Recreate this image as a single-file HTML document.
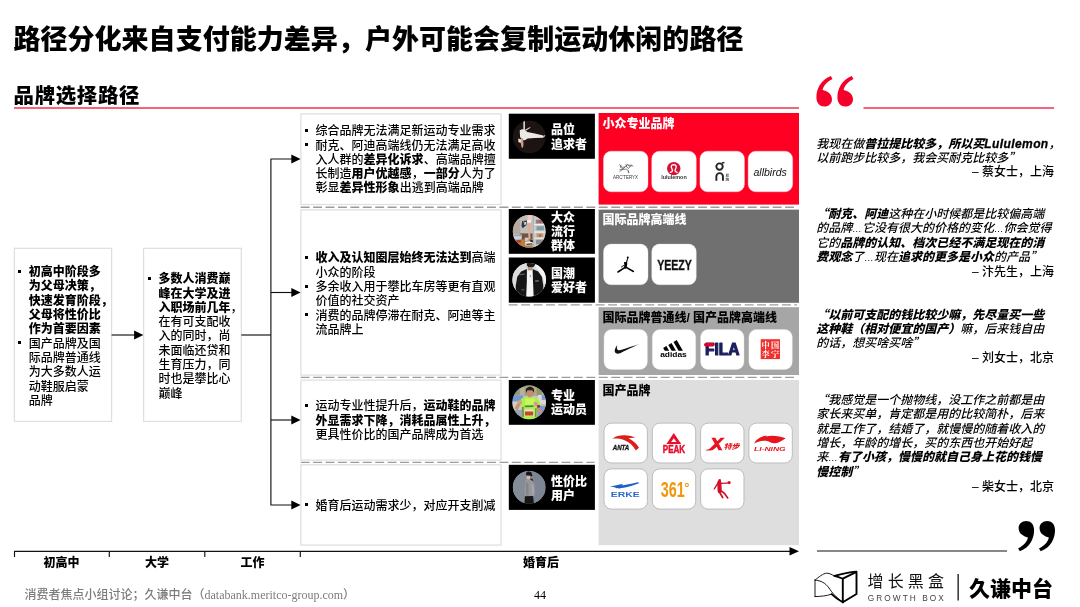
<!DOCTYPE html>
<html lang="zh-CN">
<head>
<meta charset="utf-8">
<title>路径分化来自支付能力差异，户外可能会复制运动休闲的路径</title>
<style>
*{margin:0;padding:0;box-sizing:border-box;}
html,body{width:1080px;height:607px;overflow:hidden;background:#fff;}
body{position:relative;font-family:"Liberation Sans","Noto Sans CJK SC",sans-serif;color:#000;}
#root{position:absolute;left:0;top:0;width:1080px;height:607px;will-change:transform;}
.abs{position:absolute;}
.title{left:13.4px;top:19.5px;font-size:27px;font-weight:900;line-height:40px;white-space:nowrap;letter-spacing:0.04px;}
.sub{left:13.6px;top:80.5px;font-size:20.4px;font-weight:900;line-height:30px;white-space:nowrap;letter-spacing:0.7px;}
.txt{font-weight:500;font-size:12px;line-height:14.3px;white-space:nowrap;display:flex;align-items:center;}
.txt b{font-weight:900;}
ul.bl{list-style:none;}
ul.bl li{position:relative;padding-left:13.6px;}
ul.bl li::before{content:"";position:absolute;left:3px;top:4.65px;width:3px;height:3px;background:#000;}
.nm{color:#fff;font-weight:900;font-size:12px;line-height:14.1px;white-space:nowrap;left:551.1px;}
.lab{left:602.4px;font-size:12px;font-weight:900;line-height:18px;white-space:nowrap;}
.q{left:816.3px;font-weight:500;font-size:12px;line-height:14.3px;font-style:italic;white-space:nowrap;color:#000;}
.q b{font-weight:900;}
.q i{font-family:"Noto Sans CJK SC",sans-serif;font-style:italic;line-height:0;}
.q .e{font-size:9.6px;line-height:0;}
.at{font-weight:500;left:817px;width:237px;text-align:right;font-size:12px;line-height:14.3px;white-space:nowrap;}
.tl{font-size:12px;font-weight:900;line-height:16px;text-align:center;white-space:nowrap;}
</style>
</head>
<body>
<div id="root">
<svg class="abs" style="left:0;top:0" width="1080" height="607" viewBox="0 0 1080 607">
<line x1="14" y1="108" x2="799" y2="108" stroke="#f0304e" stroke-width="1.6"/>
<line x1="863.5" y1="108" x2="1054" y2="108" stroke="#f0304e" stroke-width="1.5"/>
<rect x="14.4" y="248.3" width="97.2" height="173.1" fill="#fff" stroke="#dedede" stroke-width="1.2"/>
<rect x="143.6" y="248.3" width="97.7" height="173.1" fill="#fff" stroke="#dedede" stroke-width="1.2"/>
<rect x="300.9" y="113.9" width="200.1" height="90.6" fill="#fff" stroke="#dedede" stroke-width="1.2"/>
<rect x="300.9" y="209.9" width="200.1" height="165.2" fill="#fff" stroke="#dedede" stroke-width="1.2"/>
<rect x="300.9" y="380.1" width="200.1" height="80" fill="#fff" stroke="#dedede" stroke-width="1.2"/>
<rect x="300.9" y="464.8" width="200.1" height="80.3" fill="#fff" stroke="#dedede" stroke-width="1.2"/>
<rect x="598.6" y="113" width="200.4" height="91.6" fill="#ff0022" />
<rect x="598.6" y="209.6" width="200.4" height="93.2" fill="#707070" />
<rect x="598.6" y="307.2" width="200.4" height="67.8" fill="#a6a6a6" />
<rect x="598.6" y="380" width="200.4" height="165.2" fill="#dedede" />
<g stroke="#9c9c9c" stroke-width="1.4" stroke-dasharray="8.9 3.52" fill="none"><line x1="300.7" y1="207.2" x2="797" y2="207.2"/><line x1="508.7" y1="304.9" x2="797" y2="304.9"/><line x1="300.7" y1="377.4" x2="797" y2="377.4"/><line x1="300.7" y1="462.4" x2="594.5" y2="462.4"/></g>
<g stroke="#111" stroke-width="1.15" fill="none" stroke-linejoin="round"><line x1="111.6" y1="335" x2="135" y2="335"/><path d="M241.3 335H270.9"/><path d="M292 159H270.9V505H292"/><line x1="270.9" y1="292.5" x2="292" y2="292.5"/><line x1="270.9" y1="420" x2="292" y2="420"/><path d="M14.5 557V551.3H790"/><line x1="109.3" y1="551.3" x2="109.3" y2="557"/><line x1="204.8" y1="551.3" x2="204.8" y2="557"/><line x1="300.3" y1="551.3" x2="300.3" y2="557"/><line x1="817" y1="551" x2="1007" y2="551"/></g>
<g fill="#000"><path d="M134.1 330.6L143.4 335L134.1 339.4Z"/><path d="M291.3 154.6L300.6 159L291.3 163.4Z"/><path d="M291.3 288.1L300.6 292.5L291.3 296.9Z"/><path d="M291.3 415.6L300.6 420L291.3 424.4Z"/><path d="M291.3 500.6L300.6 505L291.3 509.4Z"/><path d="M789.5 547L799 551.3L789.5 555.6Z"/></g>
<rect x="508.8" y="113.7" width="86.1" height="45.1" fill="#000" />
<g transform="translate(512.7 120.3)"><defs><clipPath id="cpA"><circle cx="16.5" cy="16.5" r="16.4"/></clipPath><filter id="blA" x="-10%" y="-10%" width="120%" height="120%"><feGaussianBlur stdDeviation="0.5"/></filter></defs><g clip-path="url(#cpA)"><rect width="33" height="33" fill="#1c1413"/><g filter="url(#blA)"><rect x="10.700" y="0" width="1.500" height="10.400" fill="#e9e4de"/>
<path d="M7 10.200c1.400-1.300 3.800-1.500 5.400-.6l2.200 2 7.600 1.700 8.200 1.800 1 1.200-.9 1.100-8.500.2-7 .6-2.800 1.800-2.800-.4-2-2.800z" fill="#ece8e4"/>
<path d="M12.400 9.400l4-2.200.5.700-3.500 2.400z" fill="#e8e0da"/>
<path d="M16.200 7.300l1.400-.7.300.7-1.300.8z" fill="#d9a58a"/>
<path d="M30.600 15.600l1.800-1.100.4.900-1.600 1.500z" fill="#d9a58a"/>
<path d="M8.400 17.400l1.800.6.600 5.400-.5 4-1.500-.4-.7-4z" fill="#cf9c80"/>
<path d="M5.600 18.200l3 1-.6 3.400-2.400-.8z" fill="#e6e0da"/></g></g></g>
<rect x="508.8" y="209" width="86.1" height="44.8" fill="#000" />
<g transform="translate(512.7 214.9)"><defs><clipPath id="cpB"><circle cx="16.5" cy="16.5" r="16.4"/></clipPath><filter id="blB" x="-10%" y="-10%" width="120%" height="120%"><feGaussianBlur stdDeviation="0.6"/></filter></defs><g clip-path="url(#cpB)"><rect width="33" height="33" fill="#b5aaa0"/><g filter="url(#blB)"><rect x="-2" y="-2" width="37" height="37" fill="#b5aaa0"/>
<rect x="7.5" y="-2" width="13" height="22" fill="#c5bcb5"/>
<path d="M7 18.5h14v7H7z" fill="#6f553c"/>
<path d="M-2 24.6h28v10H-2z" fill="#b4803f"/>
<rect x="20" y="-2" width="15" height="37" fill="#cacaca"/>
<rect x="20" y="-2" width="1.4" height="37" fill="#b4b4b4"/>
<rect x="21.4" y="9" width="12" height="1.3" fill="#f0f0f0"/>
<rect x="21.4" y="16.5" width="12" height="1.3" fill="#f0f0f0"/>
<rect x="21.4" y="22.800" width="12" height="1.3" fill="#e6e6e6"/>
<rect x="23.2" y="4.800" width="8.5" height="3.800" fill="#8e7d80"/>
<rect x="26.4" y="5.200" width="2.4" height="2.400" fill="#c84a50"/>
<rect x="23.800" y="11.400" width="7.400" height="4" fill="#7f9ba4"/>
<rect x="23.800" y="18.400" width="6.600" height="3.800" fill="#c09a6e"/>
<rect x="26.200" y="19.800" width="2.200" height="1.800" fill="#d0523a"/>
<rect x="23.200" y="24.800" width="7" height="4.600" fill="#8a8a8c"/>
<path d="M15 -1h4.600l-.2 6.400h-4.600z" fill="#edccc9"/>
<path d="M14.300 5.200h4.100l-.2 2.800h-3.700z" fill="#f6f0f0"/>
<path d="M14.800 7.800h3.200l-.5 8.200.3 8-1.900.6-.5-8.600z" fill="#dcae9c"/>
<path d="M9.400 6l5-.5-.6 4.600-3.800 3.300-1.200-2.400z" fill="#2b3850"/>
<path d="M11.600 7.200l2-.2-.3 2.600-1.900.6z" fill="#dfe0b0"/>
<path d="M10.200 6.200l1.600-.2-.2 1.800-1.400.2z" fill="#4a78b8"/>
<path d="M12 22.800l3.800-.3.300 3-3.800.6z" fill="#d6c4ca"/>
<path d="M12.600 26.800l6.600-.6.600 2.600-1 1.600-6.200.2z" fill="#ececec"/>
<path d="M13.600 28.800l5.600-.5.200 1.200-5.600.6z" fill="#3a3a3e"/>
<path d="M17.600 25l2.400.2.200 1.800-2.600.2z" fill="#2c2c30"/>
<path d="M1 19.600h8v5H1z" fill="#cdd2dc"/>
<path d="M1.500 20h7v1.200h-7z" fill="#8aa2cc"/>
<path d="M3.800 25.200h4.400v2.600H3.800z" fill="#b23b30"/></g></g></g>
<rect x="508.8" y="257.5" width="86.1" height="45.2" fill="#000" />
<g transform="translate(512.7 263.3)"><defs><clipPath id="cpC"><circle cx="16.5" cy="16.5" r="16.8"/></clipPath><filter id="blC" x="-10%" y="-10%" width="120%" height="120%"><feGaussianBlur stdDeviation="0.55"/></filter></defs><g clip-path="url(#cpC)"><rect x="-1" y="-1" width="35" height="35" fill="#dcdcdc"/><g filter="url(#blC)"><rect x="-2" y="-2" width="37" height="37" fill="#dcdcdc"/>
<path d="M19 -2h16v30l-6-16z" fill="#f4f4f4"/>
<path d="M14 -1h9l-.6 2.600-2 2.400-4 .600-2.200-2.400z" fill="#1c1a1a"/>
<path d="M15 3.600l4.600.2-.4 3.800-3.600.4z" fill="#b8907e"/>
<path d="M14.600 7.200l5.400-.2.800 4 .6 23h-7.600l.4-22z" fill="#f6f6f6"/>
<path d="M14.200 5.600l-5.700 2.600-3.900 5.200-1.600 9 .4 11.600h10l.7-16z" fill="#151515"/>
<path d="M19.900 5.800l5.600 2.400 3.800 5.600 1.300 8.600-.2 11.600h-9.400l-.7-16z" fill="#171717"/>
<path d="M6.600 10.600l5.600-.5.200 1.200-5.600.7z" fill="#7a6250"/>
<path d="M22.400 17l3.600-.4.200 1.600-3.600.4z" fill="#6a6a6a"/>
<path d="M8.600 25.800l3-.3.200 1.600-3 .4z" fill="#5a4030"/>
<path d="M17.200 11.600l.8 0 .1 2.200-1 .1z" fill="#8a8a8a"/></g></g></g>
<rect x="508.8" y="380" width="86.1" height="44.8" fill="#000" />
<g transform="translate(512.7 385.9)"><defs><clipPath id="cpD"><circle cx="16.5" cy="16.5" r="16.8"/></clipPath><filter id="blD" x="-10%" y="-10%" width="120%" height="120%"><feGaussianBlur stdDeviation="0.7"/></filter></defs><g clip-path="url(#cpD)"><rect x="-1" y="-1" width="35" height="35" fill="#a6a488"/><g filter="url(#blD)"><rect x="-2" y="-2" width="37" height="14" fill="#a6a488"/>
<rect x="-2" y="-2" width="15" height="11" fill="#8e9a7a"/>
<rect x="7" y="1" width="5" height="9" fill="#b8b098"/>
<rect x="21" y="0" width="14" height="10" fill="#b6a886"/>
<rect x="24" y="2" width="5" height="8" fill="#909672"/>
<rect x="-2" y="10" width="37" height="12" fill="#c6c2ca"/>
<rect x="-2" y="9.6" width="12.5" height="6" fill="#7099d6"/>
<rect x="25" y="9" width="10" height="9" fill="#e0d6d8"/>
<rect x="29" y="9" width="6" height="5" fill="#7c9ad0"/>
<rect x="-2" y="21" width="37" height="14" fill="#9aa2bc"/>
<rect x="26" y="20" width="9" height="15" fill="#8696c6"/>
<rect x="0" y="16" width="9" height="8" fill="#d8cac6"/>
<path d="M9 12.400l5.800-1.600 4.600.2 5.800 1.600 3.400 6.400-3 2.800-1.600-1.200.2 14.400H9.600l.4-14.400-2.600.6-2-3.600z" fill="#aef04c"/>
<path d="M12.500 12.500h9.500v7h-9.500z" fill="#c8f65e"/>
<path d="M9.700 21l1.100-.2.300 10-1.300.2z" fill="#3a5a22" opacity="0.8"/>
<path d="M22.700 22.200l1 .2-.1 8.600-1.100-.1z" fill="#3a5a22" opacity="0.8"/>
<path d="M13.800 4.600c0-2.600 7-2.600 7 0l-.4 4-1.600 2.600-3 .2-1.600-2.800z" fill="#c28c74"/>
<path d="M13.200 5.600c-.6-6.200 8.800-6.200 8.200 0l-.6 1.400c-.2-2.400-1.200-3.600-3.500-3.600s-3.300 1.200-3.500 3.600z" fill="#241c1a"/>
<path d="M14 2.200h6.600v2.200H14z" fill="#2a201c"/>
<path d="M1.600 22.600l3.800-6.600 3 1.600-3.400 6.800z" fill="#c69276"/>
<path d="M5.800 14l3 .6.600 3-2.600 1-1.600-2.200z" fill="#d29e84"/>
<path d="M25.800 20l3.600 5-1.600 3-3.800-4.800z" fill="#c69276"/>
<path d="M21.400 15.800l3 .4 1 3-2.800 1.400-1.800-2.400z" fill="#d29e84"/>
<path d="M24 19.600l2.800-.8 1 2.200-2.800 1.200z" fill="#8c2a68"/>
<path d="M12 19.600l8.800-.2.100 1.700-8.800.3z" fill="#4c8a3a"/>
<path d="M11.900 23.400h8.900v6.900h-8.900z" fill="#e8dcd6"/>
<path d="M12.300 25.600h8.100v4h-8.100z" fill="#c2491c"/></g></g></g>
<rect x="508.8" y="464.8" width="86.1" height="45.1" fill="#000" />
<g transform="translate(512.7 470.8)"><defs><clipPath id="cpE"><circle cx="16.5" cy="16.5" r="16.4"/></clipPath><filter id="blE" x="-10%" y="-10%" width="120%" height="120%"><feGaussianBlur stdDeviation="0.45"/></filter></defs><g clip-path="url(#cpE)"><rect width="33" height="33" fill="#7d8592"/><g filter="url(#blE)"><rect x="0" y="0" width="33" height="33" fill="#7d8592"/>
<rect x="0" y="0" width="14" height="33" fill="#848c98"/>
<path d="M13.300 2.600c.4-2.600 5.600-2.600 5.800.2l.6 2.200-1.200.8-4.600-.2z" fill="#17171a"/>
<path d="M13.800 4.800l4 .2-.2 3.400-2.400.8-1.400-1.600z" fill="#d8b7a6"/>
<path d="M17.600 7.200l2.600 1.600.4 2-2.400-.6z" fill="#1d1d20"/>
<path d="M12.800 9l3-.6 3.800 1.200 2.200 3.400.6 8.800-1 4-1.200.4-.2 0-7.600.2-.6-8z" fill="#98979b"/>
<path d="M13.200 12l2.400-.4.400 13h-2.600z" fill="#85848a"/>
<path d="M18.600 12.600l2.200 1.600.6 8.400-1.600 3z" fill="#a7a6aa"/>
<path d="M12.200 25.400l8.200-.3.800 8h-9.400z" fill="#151518"/></g></g></g>
<g transform="translate(603.5 151.2)"><rect x="0" y="0" width="44.5" height="40.6" rx="7.6" fill="#fff" stroke="#e6e6e6" stroke-opacity="0.55" stroke-width="0.7"/><g fill="none" stroke="#222" stroke-width="0.55" stroke-linecap="round"><path d="M16 13.6l3.2 2.6 2.4-.5 2.6-2.2 1.8.6 2.4-.3 1 1.2"/><path d="M17.2 14l-.3 2.2 2.6 1.2"/><path d="M21.6 15.7l-2.8 2.7-2.6 1.9"/><path d="M19.5 18.2l3.6-.4 1.6 1.8.3 2"/><path d="M22.5 13.2l.6 2.6 2 1.4 1.4-1.6"/><path d="M24.2 13.6l1.4 1.5 2.6-.4"/><path d="M16.4 18.4l2.2.2M24.6 19.4l.9 1.6"/></g><text x="22" y="27.7" text-anchor="middle" font-family="'Liberation Sans',sans-serif" font-size="4.9" textLength="25" lengthAdjust="spacingAndGlyphs" fill="#333">ARC'TERYX</text></g>
<g transform="translate(651.75 151.2)"><rect x="0" y="0" width="44.5" height="40.6" rx="7.6" fill="#fff" stroke="#e6e6e6" stroke-opacity="0.55" stroke-width="0.7"/><circle cx="22" cy="17.4" r="6.7" fill="#d31334"/><path d="M18.6 21.2c2.2-.6 2.6-2 1.6-3.6-1.2-1.9-1-4 1.8-4.2 2.8.2 3 2.3 1.8 4.2-1 1.6-.6 3 1.6 3.6" fill="none" stroke="#fff" stroke-width="1.3" stroke-linecap="round"/><text x="22.2" y="28.2" text-anchor="middle" font-family="'Liberation Sans',sans-serif" font-size="5.6" font-weight="700" textLength="25.6" lengthAdjust="spacingAndGlyphs" fill="#333">lululemon</text></g>
<g transform="translate(699.95 151.2)"><rect x="0" y="0" width="44.5" height="40.6" rx="7.6" fill="#fff" stroke="#e6e6e6" stroke-opacity="0.55" stroke-width="0.7"/><g fill="none" stroke="#222" stroke-width="1.9"><circle cx="19.6" cy="15.4" r="3.2"/><path d="M16.4 29.6v-4.4a3.3 3.3 0 0 1 6.6 0v4.4"/></g><path d="M22 11.9l2.4-.6" stroke="#222" stroke-width="1.5" fill="none"/><text x="25.6" y="25.6" font-family="'Noto Sans CJK SC',sans-serif" font-size="3.6" font-weight="700" fill="#444">昂</text><text x="25.6" y="29.4" font-family="'Noto Sans CJK SC',sans-serif" font-size="3.6" font-weight="700" fill="#444">跑</text></g>
<g transform="translate(748.15 151.2)"><rect x="0" y="0" width="44.5" height="40.6" rx="7.6" fill="#fff" stroke="#e6e6e6" stroke-opacity="0.55" stroke-width="0.7"/><text x="22" y="25" text-anchor="middle" font-family="'Liberation Sans',sans-serif" font-style="italic" font-size="10.6" textLength="33.4" lengthAdjust="spacingAndGlyphs" fill="#111">allbirds</text></g>
<g transform="translate(603.5 244.1)"><rect x="0" y="0" width="44.5" height="40.6" rx="7.6" fill="#fff" stroke="#e6e6e6" stroke-opacity="0.55" stroke-width="0.7"/><g transform="translate(13.9 12.3)" fill="#000" stroke="#000" stroke-linecap="round"><circle cx="10.4" cy="1.2" r="1" stroke="none"/><path d="M10.2 2.2L8.8 7" stroke-width="1.1" fill="none"/><circle cx="7.5" cy="6.6" r="1" stroke="none"/><path d="M8.6 7L8 11" stroke-width="2.6" fill="none"/><path d="M8 10.8L0.6 15.6" stroke-width="1.5" fill="none"/><path d="M8.4 10.8L16 15.1" stroke-width="1.5" fill="none"/><path d="M7.6 8.2L4 10.6" stroke-width="0.9" fill="none"/></g></g>
<g transform="translate(651.75 244.1)"><rect x="0" y="0" width="44.5" height="40.6" rx="7.6" fill="#fff" stroke="#e6e6e6" stroke-opacity="0.55" stroke-width="0.7"/><text x="22.8" y="25.8" text-anchor="middle" font-family="'Liberation Sans',sans-serif" font-size="14" font-weight="700" textLength="34.6" lengthAdjust="spacingAndGlyphs" fill="#111" stroke="#111" stroke-width="0.35">YEEZY</text></g>
<g transform="translate(604 329.6)"><rect x="0" y="0" width="43.4" height="39.8" rx="7.6" fill="#fff" stroke="#e6e6e6" stroke-opacity="0.55" stroke-width="0.7"/><path transform="translate(10.5 14.4)" d="M25.1 0C17 3.6 9 7.6 5.6 9.2 3.5 10.1 1.2 9.8.4 8-.4 6.2 1 3.4 2.9 1.1 2.2 3 2.1 4.8 3.1 5.8 4.3 6.8 6 6.3 8 5.6 13 3.8 19 1.8 25.1 0Z" fill="#111"/></g>
<g transform="translate(652.3 329.6)"><rect x="0" y="0" width="43.4" height="39.8" rx="7.6" fill="#fff" stroke="#e6e6e6" stroke-opacity="0.55" stroke-width="0.7"/><g fill="#000"><path d="M21.2 12.300l3.200-1.900 6.200 10.800h-4.300z"/><path d="M16 15.300l3.200-1.900 4.500 7.800h-4.300z"/><path d="M10.900 18.400l3.200-1.900 2.700 4.700h-4.300z"/></g><text x="21.200" y="27.500" text-anchor="middle" font-family="'Liberation Sans',sans-serif" font-size="7.600" font-weight="700" textLength="26.600" lengthAdjust="spacingAndGlyphs" fill="#000">adidas</text></g>
<g transform="translate(700.6 329.6)"><rect x="0" y="0" width="43.4" height="39.8" rx="7.6" fill="#fff" stroke="#e6e6e6" stroke-opacity="0.55" stroke-width="0.7"/><text x="21.700" y="25.500" text-anchor="middle" font-family="'Liberation Sans',sans-serif" font-size="15.600" font-weight="700" textLength="34.600" lengthAdjust="spacingAndGlyphs" fill="#1a1f5c" stroke="#1a1f5c" stroke-width="1.1" stroke-linejoin="round">FILA</text><rect x="3.400" y="13.500" width="10.600" height="3.400" rx="1.700" fill="#e4002b"/></g>
<g transform="translate(748.9 329.6)"><rect x="0" y="0" width="43.4" height="39.8" rx="7.6" fill="#fff" stroke="#e6e6e6" stroke-opacity="0.55" stroke-width="0.7"/><rect x="11.8" y="9.6" width="19.3" height="19.9" fill="#f0302c"/><g font-family="'Noto Serif CJK SC',serif" font-size="8.2" font-weight="700" fill="#fff"><text x="12.6" y="18.4">中</text><text x="22.2" y="18.4">国</text><text x="12.6" y="27.8">李</text><text x="22.2" y="27.8">宁</text></g></g>
<g transform="translate(604 423.1)"><rect x="0" y="0" width="43.4" height="39.9" rx="7.6" fill="#fff" stroke="#bcbcbc" stroke-width="1"/><path d="M8.600 15.600C12 12.600 18 11.800 23 12.400c3.600.4 6.600 1.200 8.200 2.200-3-.1-5.200.1-6.600.5 4.600 2.400 8.400 5.800 10.400 9.600l-3.200 2.600C29.400 22.800 25.600 19 20 16.900c-3.800-1.300-8-1.700-11.400-1.300z" fill="#d8201c"/><text x="17" y="27" text-anchor="middle" font-family="'Liberation Sans',sans-serif" font-size="8" font-weight="700" font-style="italic" textLength="16.600" lengthAdjust="spacingAndGlyphs" fill="#111" stroke="#111" stroke-width="0.3">ANTA</text></g>
<g transform="translate(652.3 423.1)"><rect x="0" y="0" width="43.4" height="39.9" rx="7.6" fill="#fff" stroke="#bcbcbc" stroke-width="1"/><path d="M21.500 9.800l7.400 11.200H14.100z" fill="#e60f2d"/><path d="M21.500 15.200l2.700 3.600h-5.400z" fill="#fff"/><text x="21.700" y="30" text-anchor="middle" font-family="'Liberation Sans',sans-serif" font-size="10" font-weight="700" textLength="22.400" lengthAdjust="spacingAndGlyphs" fill="#e60f2d" stroke="#e60f2d" stroke-width="0.45">PEAK</text></g>
<g transform="translate(700.6 423.1)"><rect x="0" y="0" width="43.4" height="39.9" rx="7.6" fill="#fff" stroke="#bcbcbc" stroke-width="1"/><text x="16" y="26.800" text-anchor="middle" font-family="'Liberation Sans',sans-serif" font-size="16.500" font-weight="700" font-style="italic" textLength="13" lengthAdjust="spacingAndGlyphs" fill="#e8141e" stroke="#e8141e" stroke-width="0.7">X</text><path d="M4.200 26.800c3.400.2 7-1.200 9.600-3.800l1.800 1.400c-3 3-7.800 3.800-11.400 2.400z" fill="#e8141e"/><text x="31" y="26.200" text-anchor="middle" font-family="'Noto Sans CJK SC',sans-serif" font-size="7" font-weight="900" font-style="italic" textLength="15.600" lengthAdjust="spacingAndGlyphs" fill="#e8141e">特步</text></g>
<g transform="translate(748.9 423.1)"><rect x="0" y="0" width="43.4" height="39.9" rx="7.6" fill="#fff" stroke="#bcbcbc" stroke-width="1"/><path d="M5.200 20.600c1.800-4.400 6.600-7.600 12.800-8.200l-1.200 1c6.200-1.400 13.800-.6 20 1.800-3.600 2.600-7 4.600-10.400 5-4 .4-5.800-2.200-9.600-2.600-4.400-.4-8.600 1-11.600 3z" fill="#e8141e"/><text x="21" y="28" text-anchor="middle" font-family="'Liberation Sans',sans-serif" font-size="5.800" font-weight="700" font-style="italic" textLength="31.600" lengthAdjust="spacingAndGlyphs" fill="#e8141e">LI-NING</text></g>
<g transform="translate(604 468.9)"><rect x="0" y="0" width="43.4" height="40.2" rx="7.6" fill="#fff" stroke="#bcbcbc" stroke-width="1"/><path d="M5.800 18.200c4-1.400 9-2.600 13.400-3l-1.400 1.400c5.200-.8 11-1.800 15.600-3.200l2.200.6c-5 2.200-12 4-17.600 5.200-3.400.6-5.600.2-7-.6-1.600-.600-3.400-.600-5.200-.400z" fill="#1d5fc4"/><text x="21.200" y="27.700" text-anchor="middle" font-family="'Liberation Sans',sans-serif" font-size="7.600" font-weight="700" textLength="28.800" lengthAdjust="spacingAndGlyphs" fill="#2a6ac8">ERKE</text></g>
<g transform="translate(652.3 468.9)"><rect x="0" y="0" width="43.4" height="40.2" rx="7.6" fill="#fff" stroke="#bcbcbc" stroke-width="1"/><text x="8.400" y="28.600" font-family="'Liberation Sans',sans-serif" font-size="21.500" font-weight="700" textLength="24" lengthAdjust="spacingAndGlyphs" fill="#f0960a">361</text><text x="32" y="23.400" font-family="'Liberation Sans',sans-serif" font-size="13" font-weight="700" fill="#f0960a">°</text></g>
<g transform="translate(700.6 468.9)"><rect x="0" y="0" width="43.4" height="40.2" rx="7.6" fill="#fff" stroke="#bcbcbc" stroke-width="1"/><g transform="translate(12.9 10.2)" fill="#d0112b" stroke="#d0112b" stroke-linecap="round" stroke-linejoin="round"><circle cx="6.200" cy="1.300" r="1.300" stroke="none"/><circle cx="15.600" cy="3.500" r="1.600" stroke="none"/><path d="M7 4.200L14.200 4" stroke-width="1.200" fill="none"/><path d="M5.800 3.600L6.200 12" stroke-width="4.200" fill="none"/><path d="M4 4.600L0.800 9.800" stroke-width="1.300" fill="none"/><path d="M5.600 12.400L9.200 18.400" stroke-width="1.700" fill="none"/><path d="M7.400 11.600L11 14.400L14.200 18.800" stroke-width="1.700" fill="none"/></g></g>
<g transform="translate(812 568)">
  <g fill="none" stroke="#000" stroke-linejoin="round" stroke-linecap="round">
    <path d="M3 12C6.5 9.5 11 5.3 14.8 5.2C18 5.2 20 7 22.5 7.9" stroke-width="0.9"/>
    <path d="M3 12V28.6" stroke-width="0.9"/>
    <path d="M3 12C9 12.6 13.5 15 17 20C20 24.5 23 28.5 30.8 34.3" stroke-width="0.9"/>
    <path d="M3 28.6C9 28.4 14 28 19.6 26.2" stroke-width="0.9"/>
    <path d="M22.5 7.9C29 6 36 4.2 44.2 3.6" stroke-width="1.8"/>
    <path d="M22.5 7.9C25.5 8.6 28.3 9.6 30.8 10.7" stroke-width="1.7"/>
    <path d="M30.8 10.7L44.5 3.8V26L30.8 34.3Z" stroke-width="1.9"/>
    <path d="M19.6 26.2C23 29.5 26.5 32 30.8 34.3" stroke-width="1.8"/>
  </g>
</g>
<rect x="957.5" y="574" width="1.3" height="26.5" fill="#111"/>
</svg>
<div class="abs title">路径分化来自支付能力差异，户外可能会复制运动休闲的路径</div>
<div class="abs sub">品牌选择路径</div>
<div class="abs txt" style="left:15.2px;top:250.1px;width:97.2px;height:173.1px;"><ul class="bl"><li><b>初高中阶段多<br>为父母决策，<br>快速发育阶段，<br>父母将性价比<br>作为首要因素</b></li><li>国产品牌及国<br>际品牌普通线<br>为大多数人运<br>动鞋服启蒙<br>品牌</li></ul></div>
<div class="abs txt" style="left:144.8px;top:250.1px;width:97.7px;height:173.1px;"><ul class="bl"><li><b>多数人消费巅<br>峰在大学及进<br>入职场前几年</b>，<br>在有可支配收<br>入的同时，尚<br>未面临还贷和<br>生育压力，同<br>时也是攀比心<br>巅峰</li></ul></div>
<div class="abs txt" style="left:302px;top:114.7px;width:200.1px;height:90.6px;"><ul class="bl"><li>综合品牌无法满足新运动专业需求</li><li>耐克、阿迪高端线仍无法满足高收<br>入人群的<b>差异化诉求</b>、高端品牌擅<br>长制造<b>用户优越感</b>，<b>一部分</b>人为了<br>彰显<b>差异性形象</b>出逃到高端品牌</li></ul></div>
<div class="abs txt" style="left:302px;top:211.7px;width:200.1px;height:165.2px;"><ul class="bl"><li><b>收入及认知圈层始终无法达到</b>高端<br>小众的阶段</li><li>多余收入用于攀比车房等更有直观<br>价值的社交资产</li><li>消费的品牌停滞在耐克、阿迪等主<br>流品牌上</li></ul></div>
<div class="abs txt" style="left:302px;top:380.7px;width:200.1px;height:80px;"><ul class="bl"><li>运动专业性提升后，<b>运动鞋的品牌<br>外显需求下降，消耗品属性上升，</b><br>更具性价比的国产品牌成为首选</li></ul></div>
<div class="abs txt" style="left:302px;top:465.6px;width:200.1px;height:80.3px;"><ul class="bl"><li>婚育后运动需求少，对应开支削减</li></ul></div>
<div class="abs nm" style="top:123px;line-height:14.5px;">品位<br>追求者</div>
<div class="abs nm" style="top:211px;line-height:14.1px;">大众<br>流行<br>群体</div>
<div class="abs nm" style="top:267.4px;line-height:14.1px;">国潮<br>爱好者</div>
<div class="abs nm" style="top:388.9px;line-height:14.5px;">专业<br>运动员</div>
<div class="abs nm" style="top:474.9px;line-height:14.5px;">性价比<br>用户</div>
<div class="abs lab" style="top:114.5px;color:#fff;">小众专业品牌</div>
<div class="abs lab" style="top:211.1px;color:#fff;">国际品牌高端线</div>
<div class="abs lab" style="top:308.7px;color:#000;">国际品牌普通线/ 国产品牌高端线</div>
<div class="abs lab" style="top:381.5px;color:#000;">国产品牌</div>
<div class="abs tl" style="left:14px;top:554.5px;width:95px;">初高中</div>
<div class="abs tl" style="left:109px;top:554.5px;width:96px;">大学</div>
<div class="abs tl" style="left:205px;top:554.5px;width:95px;">工作</div>
<div class="abs tl" style="left:300px;top:554.5px;width:482px;">婚育后</div>
<div class="abs" style="left:24.5px;top:587px;font-size:12px;font-weight:500;line-height:16px;color:#7c7c7c;white-space:nowrap;font-family:'Liberation Serif','Noto Sans CJK SC',serif;">消费者焦点小组讨论；久谦中台（databank.meritco-group.com）</div>
<div class="abs" style="left:520px;top:587px;width:40px;text-align:center;font-size:12px;line-height:16px;color:#000;font-family:'Liberation Serif',serif;">44</div>
<div class="abs" id="oq" style="left:770.7px;top:71.8px;font-family:'Noto Serif CJK SC',serif;font-weight:900;font-size:89.4px;line-height:89.4px;color:#f5002a;white-space:nowrap;">“</div>
<div class="abs q" style="top:136.8px;">我现在做<b>普拉提比较多，所以买<span style="letter-spacing:0.4px;-webkit-text-stroke:0.3px #000">Lululemon</span></b>，<br>以前跑步比较多，我会买耐克比较多<i>”</i></div>
<div class="abs at" style="top:165.3px;">– 蔡女士，上海</div>
<div class="abs q" style="top:207.2px;"><b><i>“</i>耐克、阿迪</b>这种在小时候都是比较偏高端<br>的品牌<span class="e">…</span>它没有很大的价格的变化<span class="e">…</span>你会觉得<br>它的<b>品牌的认知、档次已经不满足现在的消<br>费观念</b>了<span class="e">…</span>现在<b>追求的更多是小众</b>的产品<i>”</i></div>
<div class="abs at" style="top:265px;">– 汴先生，上海</div>
<div class="abs q" style="top:307.6px;"><b><i>“</i>以前可支配的钱比较少嘛，先尽量买一些<br>这种鞋（相对便宜的国产）</b>嘛，后来钱自由<br>的话，想买啥买啥<i>”</i></div>
<div class="abs at" style="top:350.7px;">– 刘女士，北京</div>
<div class="abs q" style="top:393.2px;"><i>“</i>我感觉是一个抛物线，没工作之前都是由<br>家长来买单，肯定都是用的比较简朴，后来<br>就是工作了，结婚了，就慢慢的随着收入的<br>增长，年龄的增长，买的东西也开始好起<br>来<span class="e">…</span><b>有了小孩，慢慢的就自己身上花的钱慢<br>慢控制</b><i>”</i></div>
<div class="abs at" style="top:479.7px;">– 柴女士，北京</div>
<div class="abs" id="cq" style="left:1011.4px;top:516px;font-family:'Noto Serif CJK SC',serif;font-weight:900;font-size:89px;line-height:89px;color:#000;white-space:nowrap;">”</div>
<div class="abs" id="lg1" style="left:867.6px;top:570.9px;font-size:16px;line-height:22px;font-weight:400;letter-spacing:4.1px;white-space:nowrap;color:#111;">增长黑盒</div>
<div class="abs" id="lg2" style="left:867.8px;top:592.6px;font-size:8.3px;line-height:10px;letter-spacing:2.05px;white-space:nowrap;color:#444;">GROWTH BOX</div>
<div class="abs" id="lg3" style="left:969px;top:574.2px;font-size:21px;line-height:30px;font-weight:900;white-space:nowrap;">久谦中台</div>
</div>
</body>
</html>
